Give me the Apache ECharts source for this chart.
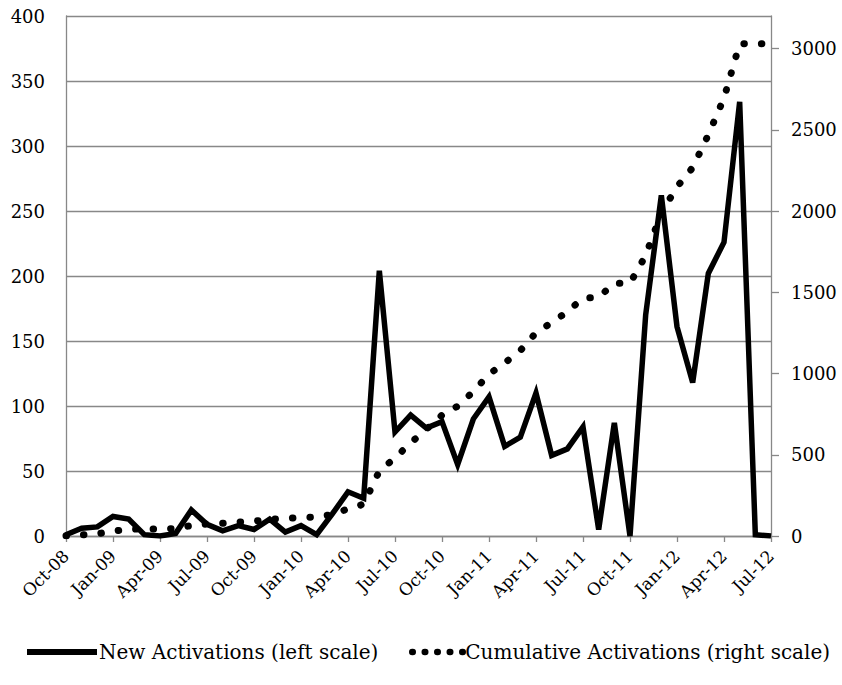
<!DOCTYPE html>
<html>
<head>
<meta charset="utf-8">
<script src="https://cdn.jsdelivr.net/npm/echarts@6/dist/echarts.min.js"></script>
<style>
html,body{margin:0;padding:0;background:#fff;}
#chart{width:842px;height:685px;}
</style>
</head>
<body>
<div id="chart"></div>
<script>
var months = ['Oct-08','Nov-08','Dec-08','Jan-09','Feb-09','Mar-09','Apr-09','May-09','Jun-09','Jul-09','Aug-09','Sep-09',
  'Oct-09','Nov-09','Dec-09','Jan-10','Feb-10','Mar-10','Apr-10','May-10','Jun-10','Jul-10','Aug-10','Sep-10',
  'Oct-10','Nov-10','Dec-10','Jan-11','Feb-11','Mar-11','Apr-11','May-11','Jun-11','Jul-11','Aug-11','Sep-11',
  'Oct-11','Nov-11','Dec-11','Jan-12','Feb-12','Mar-12','Apr-12','May-12','Jun-12','Jul-12'];
var newActivations = [1, 6, 7, 15, 13, 1, 0, 2, 20, 9, 4, 8,
  5, 13, 3, 8, 1, 17, 34, 29, 204, 80, 93, 83,
  88, 55, 90, 107, 69, 76, 110, 62, 67, 84, 5, 87,
  0, 170, 262, 161, 118, 202, 226, 334, 1, 0];
var cumulativeActivations = [1, 7, 14, 29, 42, 43, 43, 45, 65, 74, 78, 86,
  91, 104, 107, 115, 116, 133, 167, 196, 400, 480, 573, 656,
  744, 799, 889, 996, 1065, 1141, 1251, 1313, 1380, 1464, 1469, 1556,
  1556, 1726, 1988, 2149, 2267, 2469, 2695, 3029, 3030, 3030];
var leftTicks = [0, 50, 100, 150, 200, 250, 300, 350, 400];
var rightTicks = [0, 500, 1000, 1500, 2000, 2500, 3000];
var seriesNames = ['New Activations (left scale)', 'Cumulative Activations (right scale)'];

var FONT = 'DejaVu Serif';
var GRAY = '#888888';
var chart = echarts.init(document.getElementById('chart'), null, {renderer: 'svg'});
chart.setOption({
  animation: false,
  backgroundColor: '#ffffff',
  textStyle: {fontFamily: FONT, color: '#000'},
  grid: {left: 66, right: 71, top: 16, bottom: 149},
  legend: [{
    data: [seriesNames[0]],
    left: 24, top: 642, padding: 0,
    itemWidth: 70, itemHeight: 22, itemGap: 0,
    textStyle: {fontFamily: FONT, fontSize: 20, color: '#000', padding: [0,0,0,-3]},
    itemStyle: {opacity: 0},
    lineStyle: {width: 6}
  }, {
    data: [seriesNames[1]],
    left: 409, top: 642, padding: 0,
    itemWidth: 52, itemHeight: 22, itemGap: 0,
    textStyle: {fontFamily: FONT, fontSize: 20, color: '#000', padding: [0,0,0,-4]},
    itemStyle: {opacity: 0},
    lineStyle: {width: 6.5, type: [0.5, 12], cap: 'round'}
  }],
  xAxis: {
    type: 'category',
    data: months,
    boundaryGap: false,
    axisLine: {lineStyle: {color: GRAY, width: 1.3}},
    axisTick: {show: true, interval: 2, length: 6, lineStyle: {color: GRAY, width: 1.3}},
    axisLabel: {show: true, interval: 2, rotate: 45, margin: 17, fontFamily: FONT, fontSize: 17, color: '#000'},
    splitLine: {show: false}
  },
  yAxis: [{
    type: 'value', min: 0, max: 400, interval: 50,
    axisLine: {show: true, lineStyle: {color: GRAY, width: 1.3}},
    axisTick: {show: false},
    axisLabel: {margin: 21, fontFamily: FONT, fontSize: 18, color: '#000', customValues: leftTicks},
    splitLine: {show: true, lineStyle: {color: GRAY, width: 1.3}}
  }, {
    type: 'value', min: 0, max: 3200, interval: 500, position: 'right',
    axisLine: {show: true, lineStyle: {color: GRAY, width: 1.3}},
    axisTick: {show: true, inside: false, length: 8, lineStyle: {color: GRAY, width: 1.3}, customValues: rightTicks},
    axisLabel: {margin: 20, fontFamily: FONT, fontSize: 18, color: '#000', customValues: rightTicks,
      formatter: function (v) { return String(v); }},
    splitLine: {show: false}
  }],
  series: [{
    name: seriesNames[0],
    type: 'line',
    yAxisIndex: 0,
    data: newActivations,
    symbol: 'none',
    lineStyle: {color: '#000', width: 5.5, join: 'miter', cap: 'butt'},
    itemStyle: {color: '#000'},
    z: 3
  }, {
    name: seriesNames[1],
    type: 'line',
    yAxisIndex: 1,
    data: cumulativeActivations,
    symbol: 'none',
    lineStyle: {color: '#000', width: 7, type: [0.5, 17], cap: 'round'},
    itemStyle: {color: '#000'},
    z: 2
  }]
});
</script>
</body>
</html>
